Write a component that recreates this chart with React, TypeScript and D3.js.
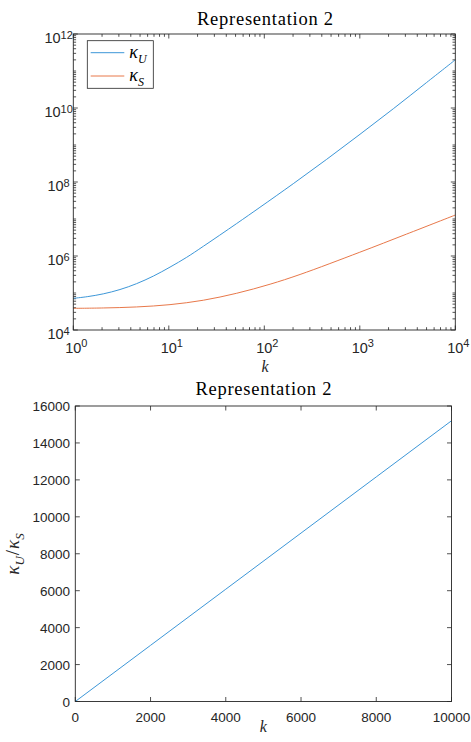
import React from "react";
import * as d3 from "d3";

// ---- data ----
const kU = [1, 1.4, 2.06, 3.08, 4.6, 6.9, 10.3, 15.4, 23, 51.4, 90, 201, 450, 1005, 2244, 5012, 10000];
const kappaU = [7.18e4, 7.96e4, 9.48e4, 1.24e5, 1.79e5, 2.87e5, 5.01e5, 9.23e5, 1.83e6, 7.55e6, 2.07e7, 9.0e7, 4.1e8, 1.95e9, 9.55e9, 4.9e10, 2.0e11];
const kS = [1, 2.06, 4.6, 10.3, 23, 51.4, 115, 237, 1000, 3090, 10000];
const kappaS = [3.85e4, 3.94e4, 4.2e4, 4.85e4, 6.38e4, 9.84e4, 1.73e5, 3.17e5, 1.265e6, 3.91e6, 1.28e7];
const kLin = [0, 2000, 4000, 6000, 8000, 10000];
const ratio = [0, 3040, 6080, 9120, 12160, 15200];

const topXMajor = [0, 1, 2, 3, 4]; // exponents
const topYMajor = [4, 6, 8, 10, 12]; // exponents
const botXTicks = [0, 2000, 4000, 6000, 8000, 10000];
const botYTicks = [0, 2000, 4000, 6000, 8000, 10000, 12000, 14000, 16000];

const AX = "#262626";
const BLUE = "#3d97d8";
const ORANGE = "#e8784a";
const SANS = "'Liberation Sans', Arial, sans-serif";
const SERIF = "'Liberation Serif', 'Times New Roman', serif";

export default function App() {
  // top plot
  const L1 = 73.3, R1 = 455.3, T1 = 34, B1 = 330;
  const x1 = d3.scaleLog().domain([1, 1e4]).range([L1, R1]);
  const y1 = d3.scaleLog().domain([1e4, 1e12]).range([B1, T1]);
  // bottom plot
  const L2 = 75.3, R2 = 451.5, T2 = 406, B2 = 701.5;
  const x2 = d3.scaleLinear().domain([0, 10000]).range([L2, R2]);
  const y2 = d3.scaleLinear().domain([0, 16000]).range([B2, T2]);

  const lineLog = d3
    .line<[number, number]>()
    .x((d) => x1(d[0]))
    .y((d) => y1(d[1]))
    .curve(d3.curveCatmullRom.alpha(0.5));
  const lineLin = d3
    .line<[number, number]>()
    .x((d) => x2(d[0]))
    .y((d) => y2(d[1]));

  const uPts = kU.map((k, i) => [k, kappaU[i]] as [number, number]);
  const sPts = kS.map((k, i) => [k, kappaS[i]] as [number, number]);
  const rPts = kLin.map((k, i) => [k, ratio[i]] as [number, number]);

  // minor ticks
  const xMinor: number[] = [];
  for (let d = 0; d < 4; d++) for (let m = 2; m <= 9; m++) xMinor.push(m * Math.pow(10, d));
  const yMinor: number[] = [];
  for (let d = 4; d < 12; d++)
    for (let m = 1; m <= 9; m++) {
      if (m === 1 && d % 2 === 0) continue;
      yMinor.push(m * Math.pow(10, d));
    }

  const MJ = 4.5, MN = 2.8;

  return (
    <div style={{ position: "absolute", left: 0, top: 0 }}>
      <svg width={471} height={742} style={{ display: "block", background: "#fff" }}>
        {/* ===== TOP PLOT ===== */}
        <text x={265} y={25} textAnchor="middle" fontFamily={SERIF} fontSize={18.5} fill="#000" textLength={136} lengthAdjust="spacing">
          Representation 2
        </text>
        <g stroke={AX} strokeWidth={0.8} fill="none">
          {topXMajor.map((e) => {
            const x = x1(Math.pow(10, e));
            return (
              <g key={"xm" + e}>
                <line x1={x} x2={x} y1={B1} y2={B1 - MJ} />
                <line x1={x} x2={x} y1={T1} y2={T1 + MJ} />
              </g>
            );
          })}
          {xMinor.map((v) => {
            const x = x1(v);
            return (
              <g key={"xn" + v}>
                <line x1={x} x2={x} y1={B1} y2={B1 - MN} />
                <line x1={x} x2={x} y1={T1} y2={T1 + MN} />
              </g>
            );
          })}
          {topYMajor.map((e) => {
            const y = y1(Math.pow(10, e));
            return (
              <g key={"ym" + e}>
                <line x1={L1} x2={L1 + MJ} y1={y} y2={y} />
                <line x1={R1} x2={R1 - MJ} y1={y} y2={y} />
              </g>
            );
          })}
          {yMinor.map((v) => {
            const y = y1(v);
            return (
              <g key={"yn" + v}>
                <line x1={L1} x2={L1 + MN} y1={y} y2={y} />
                <line x1={R1} x2={R1 - MN} y1={y} y2={y} />
              </g>
            );
          })}
        </g>
        <path d={lineLog(uPts) || ""} fill="none" stroke={BLUE} strokeWidth={1} />
        <path d={lineLog(sPts) || ""} fill="none" stroke={ORANGE} strokeWidth={1} />
        <rect x={L1} y={T1} width={R1 - L1} height={B1 - T1} fill="none" stroke={AX} strokeWidth={0.9} />
        {topXMajor.map((e) => {
          const x = x1(Math.pow(10, e));
          return (
            <text key={"xl" + e} x={x - 8.1} y={B1 + 23} fontFamily={SANS} fontSize={14.5} fill={AX}>
              10
              <tspan dy={-6} fontSize={11}>{e}</tspan>
            </text>
          );
        })}
        {topYMajor.map((e) => {
          const y = y1(Math.pow(10, e));
          return (
            <text key={"yl" + e} x={58.6} y={y + 9} textAnchor="middle" fontFamily={SANS} fontSize={14.5} fill={AX}>
              10
              <tspan dy={-4.5} fontSize={11}>{e}</tspan>
            </text>
          );
        })}
        <text x={265} y={372} textAnchor="middle" fontFamily={SERIF} fontStyle="italic" fontSize={16} fill={AX}>
          k
        </text>
        {/* legend */}
        <rect x={87.3} y={40.7} width={66} height={47.6} fill="#fff" stroke={AX} strokeWidth={0.8} />
        <line x1={90.7} x2={124.3} y1={52.7} y2={52.7} stroke={BLUE} strokeWidth={1} />
        <line x1={90.7} x2={124.3} y1={76} y2={76} stroke={ORANGE} strokeWidth={1} />
        <text x={129.3} y={57.5} fontFamily={SERIF} fontStyle="italic" fontSize={18} fill="#000">
          κ<tspan dy={5.5} fontSize={12}>U</tspan>
        </text>
        <text x={129.3} y={80.8} fontFamily={SERIF} fontStyle="italic" fontSize={18} fill="#000">
          κ<tspan dy={5.5} fontSize={12}>S</tspan>
        </text>

        {/* ===== BOTTOM PLOT ===== */}
        <text x={263.4} y={395} textAnchor="middle" fontFamily={SERIF} fontSize={18.5} fill="#000" textLength={136} lengthAdjust="spacing">
          Representation 2
        </text>
        <g stroke={AX} strokeWidth={0.8}>
          {botXTicks.map((v) => {
            const x = x2(v);
            return (
              <g key={"bx" + v}>
                <line x1={x} x2={x} y1={B2} y2={B2 - MJ} />
                <line x1={x} x2={x} y1={T2} y2={T2 + MJ} />
              </g>
            );
          })}
          {botYTicks.map((v) => {
            const y = y2(v);
            return (
              <g key={"by" + v}>
                <line x1={L2} x2={L2 + MJ} y1={y} y2={y} />
                <line x1={R2} x2={R2 - MJ} y1={y} y2={y} />
              </g>
            );
          })}
        </g>
        <path d={lineLin(rPts) || ""} fill="none" stroke={BLUE} strokeWidth={1} />
        <rect x={L2} y={T2} width={R2 - L2} height={B2 - T2} fill="none" stroke={AX} strokeWidth={0.9} />
        {botXTicks.map((v) => (
          <text key={"bxl" + v} x={x2(v)} y={B2 + 20} textAnchor="middle" fontFamily={SANS} fontSize={13.5} fill={AX}>
            {v}
          </text>
        ))}
        {botYTicks.map((v) => (
          <text key={"byl" + v} x={L2 - 5.3} y={y2(v) + 5} textAnchor="end" fontFamily={SANS} fontSize={13.5} fill={AX}>
            {v}
          </text>
        ))}
        <text x={263.4} y={732} textAnchor="middle" fontFamily={SERIF} fontStyle="italic" fontSize={16} fill={AX}>
          k
        </text>
        <text transform="translate(19,554) rotate(-90)" textAnchor="middle" fontFamily={SERIF} fontSize={19} fill={AX}>
          <tspan fontStyle="italic">κ</tspan>
          <tspan fontStyle="italic" fontSize={13} dy={5}>U</tspan>
          <tspan dy={-5} dx={1}>/</tspan>
          <tspan fontStyle="italic" dx={1}>κ</tspan>
          <tspan fontStyle="italic" fontSize={13} dy={5}>S</tspan>
        </text>
      </svg>
    </div>
  );
}
